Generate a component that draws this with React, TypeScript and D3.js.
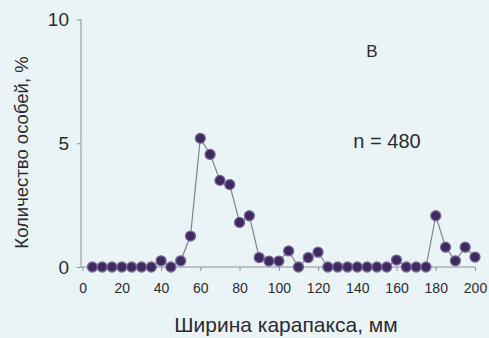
import React, { useEffect, useRef } from 'react'
import * as d3 from 'd3'

// carapace width classes, mm
const widths = [5, 10, 15, 20, 25, 30, 35, 40, 45, 50, 55, 60, 65, 70, 75, 80, 85, 90, 95, 100,
    105, 110, 115, 120, 125, 130, 135, 140, 145, 150, 155, 160, 165, 170, 175, 180, 185, 190, 195, 200]

// share of individuals, %
const shares = [0, 0, 0, 0, 0, 0, 0, 0.25, 0, 0.25, 1.25, 5.2, 4.55, 3.5, 3.33, 1.8, 2.07, 0.38, 0.24, 0.24,
    0.65, 0, 0.38, 0.6, 0, 0, 0, 0, 0, 0, 0, 0.28, 0, 0, 0, 2.07, 0.8, 0.25, 0.8, 0.4]

const xTicks = [0, 20, 40, 60, 80, 100, 120, 140, 160, 180, 200]
const yTicks = [0, 5, 10]

const panelLabel = '\u0412'
const sampleLabel = 'n = 480'
const xTitle = 'Ширина карапакса, мм'
const yTitle = 'Количество особей, %'

const W = 489, H = 338

export default function App() {
    const ref = useRef<SVGSVGElement>(null)

    useEffect(() => {
        const svg = d3.select(ref.current)
        svg.selectAll('*').remove()

        const font = 'Liberation Sans, Arial, sans-serif'
        const textColor = '#2b2b31'
        const axisColor = '#8c9096'

        svg.append('rect').attr('width', W).attr('height', H).attr('fill', '#eaf4f7')

        var x = d3.scaleLinear().domain([0, 200]).range([82.6, 475])
        var y = d3.scaleLinear().domain([0, 10]).range([267, 19.5])

        // y axis
        var yAxis = d3.axisLeft(y).tickValues(yTicks).tickSize(4).tickPadding(8)
        var gy = svg.append('g').attr('transform', 'translate(81,0)').call(yAxis)
        gy.select('.domain').attr('stroke', axisColor).attr('d', 'M0,' + y(10) + 'V' + y(0))
        gy.selectAll('.tick line').attr('stroke', axisColor)
        gy.selectAll('.tick text')
            .attr('fill', textColor)
            .attr('font-family', font)
            .attr('font-size', 19)

        // x axis
        var xAxis = d3.axisBottom(x).tickValues(xTicks).tickSize(4).tickPadding(12)
        var gx = svg.append('g').attr('transform', 'translate(0,' + y(0) + ')').call(xAxis)
        gx.select('.domain').attr('stroke', axisColor).attr('d', 'M81,0H' + x(200))
        gx.selectAll('.tick line').attr('stroke', axisColor)
        gx.selectAll('.tick text')
            .attr('fill', textColor)
            .attr('font-family', font)
            .attr('font-size', 14)

        var data = widths.map(function (w, i) { return { w: w, v: shares[i] } })

        var line = d3.line<{ w: number, v: number }>()
            .x(function (d) { return x(d.w) })
            .y(function (d) { return y(d.v) })

        svg.append('path')
            .datum(data)
            .attr('d', line)
            .attr('fill', 'none')
            .attr('stroke', '#7f848c')
            .attr('stroke-width', 1.2)

        svg.selectAll('.dot')
            .data(data)
            .enter().append('circle')
            .attr('class', 'dot')
            .attr('cx', function (d) { return x(d.w) })
            .attr('cy', function (d) { return y(d.v) })
            .attr('r', 5)
            .attr('fill', '#40295f')
            .attr('stroke', '#77679a')
            .attr('stroke-width', 1.3)

        svg.append('text')
            .attr('x', 372).attr('y', 57)
            .attr('text-anchor', 'middle')
            .attr('font-family', font).attr('font-size', 17)
            .attr('fill', textColor)
            .text(panelLabel)

        svg.append('text')
            .attr('x', 387).attr('y', 148)
            .attr('text-anchor', 'middle')
            .attr('font-family', font).attr('font-size', 20)
            .attr('fill', textColor)
            .text(sampleLabel)

        svg.append('text')
            .attr('x', 286).attr('y', 332)
            .attr('text-anchor', 'middle')
            .attr('font-family', font).attr('font-size', 21)
            .attr('fill', textColor)
            .text(xTitle)

        svg.append('text')
            .attr('transform', 'translate(28,152.5) rotate(-90)')
            .attr('text-anchor', 'middle')
            .attr('font-family', font).attr('font-size', 18.5)
            .attr('fill', textColor)
            .text(yTitle)
    }, [])

    return (
        <svg ref={ref} width={W} height={H} style={{ position: 'fixed', left: 0, top: 0 }} />
    )
}
